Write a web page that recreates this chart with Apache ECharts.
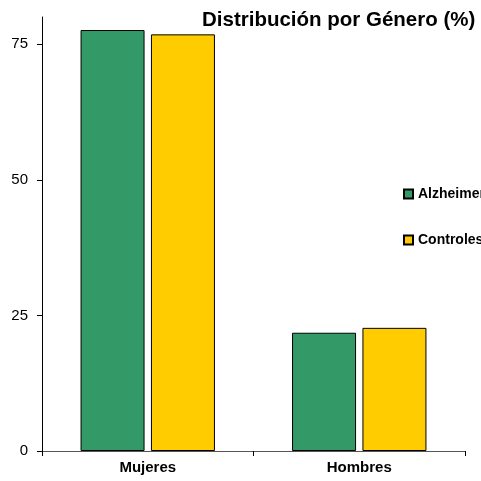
<!DOCTYPE html>
<html>
<head>
<meta charset="utf-8">
<script src="https://cdn.jsdelivr.net/npm/echarts@6/dist/echarts.min.js"></script>
<style>
  html, body { margin: 0; padding: 0; background: #fff; }
  #chart { width: 481px; height: 481px; }
</style>
</head>
<body>
<div id="chart"></div>
<script>
// Gender distribution (%) for the Alzheimer and control groups
const categories = ['Mujeres', 'Hombres'];
const alzheimer = [77.6, 21.8];
const controles = [76.8, 22.7];
const yTicks = [0, 25, 50, 75];

const font = '"Liberation Sans", Arial, sans-serif';
const chart = echarts.init(document.getElementById('chart'), null, { renderer: 'canvas' });

chart.setOption({
  animation: false,
  backgroundColor: '#ffffff',
  title: {
    text: 'Distribución por Género (%)',
    left: 202,
    top: 10,
    padding: 0,
    textStyle: { fontFamily: font, fontSize: 20.5, fontWeight: 'bold', color: '#000' }
  },
  legend: {
    orient: 'vertical',
    left: 403,
    top: 187,
    padding: 0,
    icon: 'rect',
    itemWidth: 9,
    itemHeight: 9,
    itemGap: 32,
    textStyle: { fontFamily: font, fontSize: 14, fontWeight: 'bold', color: '#000' },
    data: ['Alzheimer', 'Controles']
  },
  grid: { left: 42, right: 16, top: 17, bottom: 30, containLabel: false },
  xAxis: {
    type: 'category',
    data: categories,
    axisLine: { lineStyle: { color: '#555', width: 1 } },
    axisTick: { show: true, length: 5, lineStyle: { color: '#000' } },
    axisLabel: { fontFamily: font, fontSize: 15, fontWeight: 'bold', color: '#000', margin: 9 }
  },
  yAxis: {
    type: 'value',
    min: 0,
    max: 80,
    interval: 25,
    splitLine: { show: false },
    axisLine: { show: true, lineStyle: { color: '#000', width: 1 } },
    axisTick: { show: true, length: 5, customValues: yTicks, lineStyle: { color: '#000' } },
    axisLabel: { fontFamily: font, fontSize: 15, color: '#000', margin: 14, customValues: yTicks }
  },
  series: [
    {
      name: 'Alzheimer',
      type: 'bar',
      data: alzheimer,
      barWidth: 64,
      barGap: '10%',
      itemStyle: { color: '#339966', borderColor: '#000', borderWidth: 1 }
    },
    {
      name: 'Controles',
      type: 'bar',
      data: controles,
      barWidth: 64,
      itemStyle: { color: '#ffcc00', borderColor: '#000', borderWidth: 1 }
    }
  ]
});
</script>
</body>
</html>
